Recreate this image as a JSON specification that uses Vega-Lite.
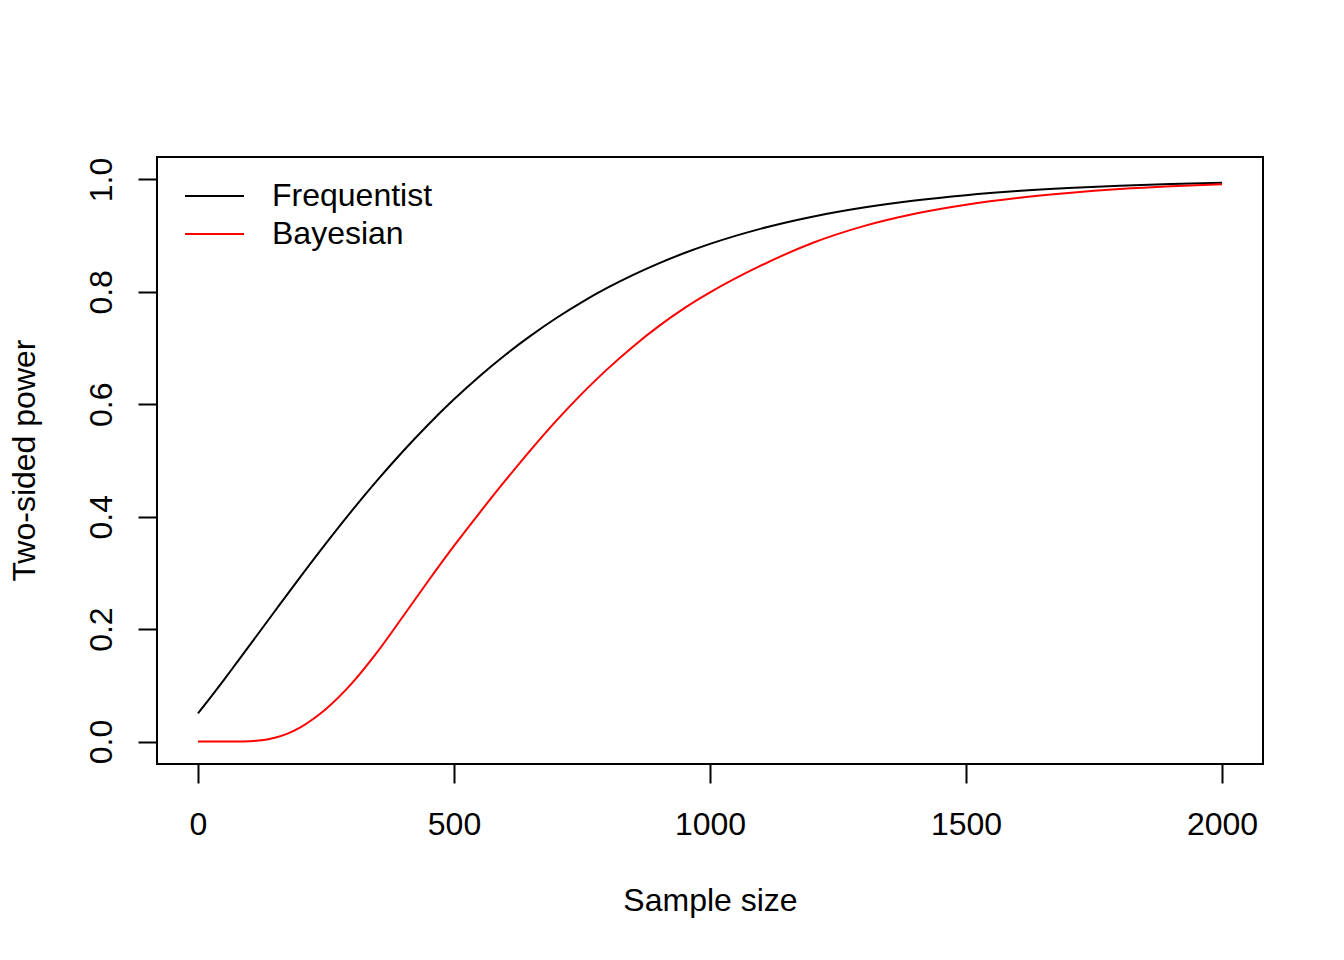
{
  "$schema": "https://vega.github.io/schema/vega-lite/v6.json",
  "width": 1106,
  "height": 607,
  "autosize": {"type": "none"},
  "padding": {"left": 157, "top": 157, "right": 81, "bottom": 196},
  "background": "white",
  "config": {
    "font": "Liberation Sans",
    "view": {"stroke": "black", "strokeWidth": 2, "fill": "white"},
    "axis": {
      "domain": false,
      "grid": false,
      "ticks": true,
      "tickColor": "black",
      "tickWidth": 2,
      "tickSize": 19,
      "labelFont": "Liberation Sans",
      "labelFontSize": 32,
      "labelColor": "black",
      "labelFlush": false,
      "labelOverlap": false,
      "titleFont": "Liberation Sans",
      "titleFontSize": 32,
      "titleFontWeight": "normal",
      "titleColor": "black"
    },
    "legend": {
      "orient": "none",
      "legendX": 27,
      "legendY": 20,
      "padding": 0,
      "symbolType": "stroke",
      "symbolSize": 3481,
      "symbolStrokeWidth": 2,
      "clipHeight": 38,
      "rowPadding": 0,
      "labelFont": "Liberation Sans",
      "labelFontSize": 32,
      "labelColor": "black",
      "labelOffset": 27,
      "labelLimit": 400
    }
  },
  "data": {
    "values": [
      {"n": 0, "power": 0.05, "method": "Frequentist"},
      {"n": 25, "power": 0.0791, "method": "Frequentist"},
      {"n": 50, "power": 0.1089, "method": "Frequentist"},
      {"n": 75, "power": 0.1394, "method": "Frequentist"},
      {"n": 100, "power": 0.17, "method": "Frequentist"},
      {"n": 150, "power": 0.2318, "method": "Frequentist"},
      {"n": 200, "power": 0.293, "method": "Frequentist"},
      {"n": 250, "power": 0.3526, "method": "Frequentist"},
      {"n": 300, "power": 0.41, "method": "Frequentist"},
      {"n": 350, "power": 0.4645, "method": "Frequentist"},
      {"n": 400, "power": 0.516, "method": "Frequentist"},
      {"n": 450, "power": 0.5641, "method": "Frequentist"},
      {"n": 500, "power": 0.6088, "method": "Frequentist"},
      {"n": 550, "power": 0.65, "method": "Frequentist"},
      {"n": 600, "power": 0.6878, "method": "Frequentist"},
      {"n": 650, "power": 0.7222, "method": "Frequentist"},
      {"n": 700, "power": 0.7536, "method": "Frequentist"},
      {"n": 750, "power": 0.7819, "method": "Frequentist"},
      {"n": 800, "power": 0.8074, "method": "Frequentist"},
      {"n": 850, "power": 0.8303, "method": "Frequentist"},
      {"n": 900, "power": 0.8508, "method": "Frequentist"},
      {"n": 950, "power": 0.8691, "method": "Frequentist"},
      {"n": 1000, "power": 0.8854, "method": "Frequentist"},
      {"n": 1100, "power": 0.9126, "method": "Frequentist"},
      {"n": 1200, "power": 0.9338, "method": "Frequentist"},
      {"n": 1300, "power": 0.9501, "method": "Frequentist"},
      {"n": 1400, "power": 0.9626, "method": "Frequentist"},
      {"n": 1500, "power": 0.9721, "method": "Frequentist"},
      {"n": 1600, "power": 0.9793, "method": "Frequentist"},
      {"n": 1700, "power": 0.9847, "method": "Frequentist"},
      {"n": 1800, "power": 0.9888, "method": "Frequentist"},
      {"n": 1900, "power": 0.9918, "method": "Frequentist"},
      {"n": 2000, "power": 0.994, "method": "Frequentist"},
      {"n": 0, "power": 0, "method": "Bayesian"},
      {"n": 25, "power": 0, "method": "Bayesian"},
      {"n": 50, "power": 0, "method": "Bayesian"},
      {"n": 75, "power": 0.0001, "method": "Bayesian"},
      {"n": 100, "power": 0.0006, "method": "Bayesian"},
      {"n": 125, "power": 0.0022, "method": "Bayesian"},
      {"n": 150, "power": 0.0066, "method": "Bayesian"},
      {"n": 175, "power": 0.014, "method": "Bayesian"},
      {"n": 200, "power": 0.025, "method": "Bayesian"},
      {"n": 225, "power": 0.04, "method": "Bayesian"},
      {"n": 250, "power": 0.058, "method": "Bayesian"},
      {"n": 300, "power": 0.103, "method": "Bayesian"},
      {"n": 350, "power": 0.159, "method": "Bayesian"},
      {"n": 400, "power": 0.222, "method": "Bayesian"},
      {"n": 450, "power": 0.286, "method": "Bayesian"},
      {"n": 500, "power": 0.348, "method": "Bayesian"},
      {"n": 550, "power": 0.407, "method": "Bayesian"},
      {"n": 600, "power": 0.464, "method": "Bayesian"},
      {"n": 650, "power": 0.519, "method": "Bayesian"},
      {"n": 700, "power": 0.571, "method": "Bayesian"},
      {"n": 750, "power": 0.619, "method": "Bayesian"},
      {"n": 800, "power": 0.663, "method": "Bayesian"},
      {"n": 850, "power": 0.703, "method": "Bayesian"},
      {"n": 900, "power": 0.739, "method": "Bayesian"},
      {"n": 950, "power": 0.771, "method": "Bayesian"},
      {"n": 1000, "power": 0.799, "method": "Bayesian"},
      {"n": 1100, "power": 0.847, "method": "Bayesian"},
      {"n": 1200, "power": 0.887, "method": "Bayesian"},
      {"n": 1300, "power": 0.917, "method": "Bayesian"},
      {"n": 1400, "power": 0.939, "method": "Bayesian"},
      {"n": 1500, "power": 0.955, "method": "Bayesian"},
      {"n": 1600, "power": 0.967, "method": "Bayesian"},
      {"n": 1700, "power": 0.976, "method": "Bayesian"},
      {"n": 1800, "power": 0.983, "method": "Bayesian"},
      {"n": 1900, "power": 0.988, "method": "Bayesian"},
      {"n": 2000, "power": 0.9915, "method": "Bayesian"}
    ]
  },
  "mark": {"type": "line", "strokeWidth": 2, "interpolate": "monotone", "clip": true},
  "encoding": {
    "x": {
      "field": "n",
      "type": "quantitative",
      "scale": {"domain": [-80, 2080], "nice": false, "zero": false},
      "axis": {
        "values": [0, 500, 1000, 1500, 2000],
        "format": "d",
        "labelBaseline": "alphabetic",
        "labelAlign": "center",
        "labelPadding": 51,
        "title": "Sample size",
        "titleBaseline": "alphabetic",
        "titleAlign": "center",
        "titleX": 553,
        "titleY": 146
      }
    },
    "y": {
      "field": "power",
      "type": "quantitative",
      "scale": {"domain": [-0.04, 1.04], "nice": false, "zero": false},
      "axis": {
        "values": [0, 0.2, 0.4, 0.6, 0.8, 1.0],
        "format": ".1f",
        "labelAngle": 270,
        "labelAlign": "center",
        "labelBaseline": "alphabetic",
        "labelPadding": 27,
        "title": "Two-sided power",
        "titleAngle": 270,
        "titleBaseline": "alphabetic",
        "titleAlign": "center",
        "titleX": -123,
        "titleY": 303
      }
    },
    "color": {
      "field": "method",
      "type": "nominal",
      "scale": {"domain": ["Frequentist", "Bayesian"], "range": ["black", "red"]},
      "legend": {"title": null}
    }
  }
}
